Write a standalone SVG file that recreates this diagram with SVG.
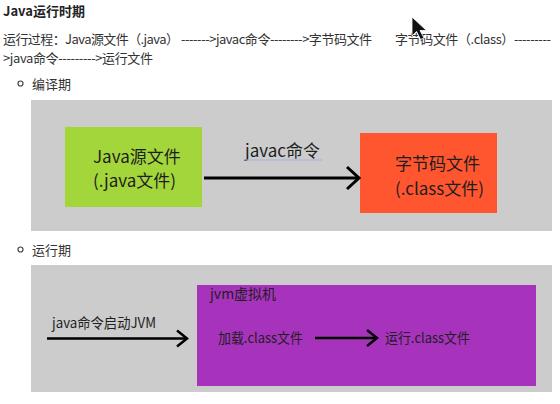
<svg xmlns="http://www.w3.org/2000/svg" width="560" height="404" viewBox="0 0 560 404">
<style>
.t{font-family:"Noto Sans CJK SC","Noto Sans",sans-serif;font-size:13px;fill:#333}
.h{font-family:"Noto Sans CJK SC","Noto Sans",sans-serif;font-size:13px;font-weight:bold;fill:#222}
.b{font-family:"Noto Sans CJK SC","Noto Sans",sans-serif;font-size:17px;fill:#1e1e1e}
.s{font-family:"Noto Sans CJK SC","Noto Sans",sans-serif;font-size:14px;fill:#1e1e1e}
.panel{fill:#cccccc}
.line{stroke:#000;stroke-width:3;fill:none}
.line2{stroke:#000;stroke-width:2.5;fill:none}
.dot{fill:none;stroke:#444;stroke-width:1.2}
</style>
<defs>
<marker id="chevL" markerUnits="userSpaceOnUse" viewBox="0 0 20 26" markerWidth="20" markerHeight="26" refX="15" refY="13" orient="auto">
<path d="M3,2 L15,13 L3,24" fill="none" stroke="#000" stroke-width="3"/>
</marker>
<marker id="chevS" markerUnits="userSpaceOnUse" viewBox="0 0 16 20" markerWidth="16" markerHeight="20" refX="12" refY="10" orient="auto">
<path d="M2,2 L12,10 L2,18" fill="none" stroke="#000" stroke-width="2.5"/>
</marker>
</defs>
<rect width="560" height="404" fill="#ffffff"/>

<g id="header">
<text class="h" x="3" y="16">Java运行时期</text>
<text class="t" x="3" y="44" textLength="176" lengthAdjust="spacing">运行过程：Java源文件（.java）</text>
<text class="t" x="181" y="44" textLength="191" lengthAdjust="spacing">-------&gt;javac命令--------&gt;字节码文件</text>
<text class="t" x="395" y="44" textLength="156" lengthAdjust="spacing">字节码文件（.class）---------</text>
<text class="t" x="3" y="63" textLength="150" lengthAdjust="spacing">&gt;java命令---------&gt;运行文件</text>
<circle class="dot" cx="20.5" cy="83.5" r="2.5"/>
<text class="t" x="32" y="89">编译期</text>
<circle class="dot" cx="20.5" cy="249.5" r="2.5"/>
<text class="t" x="32" y="255">运行期</text>
</g>

<g id="cursor">
<polygon points="412,17 412,36 416.5,31.5 420.5,39.5 424,38 420,30.5 426.5,30.5" fill="#111" stroke="#fff" stroke-width="0.8"/>
</g>

<g id="panel-compile">
<rect class="panel" x="31" y="100" width="521" height="131"/>
</g>
<g id="node-java-source">
<rect x="65" y="127" width="137" height="80" fill="#a3d63b"/>
<text class="b" x="93" y="163">Java源文件</text>
<text class="b" x="93" y="187">(.java文件)</text>
</g>
<g id="node-bytecode">
<rect x="360" y="133" width="137" height="80" fill="#ff5630"/>
<text class="b" x="395" y="170">字节码文件</text>
<text class="b" x="395" y="195">(.class文件)</text>
</g>

<g id="panel-run">
<rect class="panel" x="31" y="265" width="521" height="127"/>
</g>
<g id="node-jvm">
<rect x="197" y="285" width="339" height="101" fill="#a733bd"/>
<text class="s" x="210" y="299">jvm虚拟机</text>
</g>
<g id="node-load">
<text class="s" x="218" y="343" textLength="85" lengthAdjust="spacingAndGlyphs">加载.class文件</text>
</g>
<g id="node-exec">
<text class="s" x="385" y="343" textLength="85" lengthAdjust="spacingAndGlyphs">运行.class文件</text>
</g>

<g id="connectors">
<line class="line" x1="204" y1="178" x2="359" y2="178" marker-end="url(#chevL)"/>
<text class="b" x="245" y="157">javac命令</text>
<line x1="245" y1="160" x2="322" y2="160" stroke="#9fb2de" stroke-width="1"/>
<line class="line2" x1="47" y1="338.5" x2="187" y2="338.5" marker-end="url(#chevS)"/>
<text class="s" x="52" y="328" textLength="104" lengthAdjust="spacingAndGlyphs">java命令启动JVM</text>
<line class="line2" x1="315" y1="338" x2="377" y2="338" marker-end="url(#chevS)"/>
</g>
</svg>
